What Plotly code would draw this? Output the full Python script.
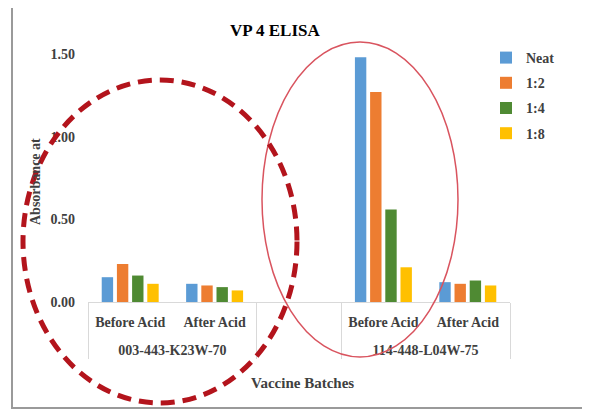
import plotly.graph_objects as go

batches = ["003-443-K23W-70", "003-443-K23W-70", " ", "114-448-L04W-75", "114-448-L04W-75"]
stages = ["Before Acid", "After Acid", "  ", "Before Acid", "After Acid"]
series_names = ["Neat", "1:2", "1:4", "1:8"]
neat = [0.15, 0.11, None, 1.48, 0.12]
dil_2 = [0.23, 0.10, None, 1.27, 0.11]
dil_4 = [0.16, 0.09, None, 0.56, 0.13]
dil_8 = [0.11, 0.07, None, 0.21, 0.10]
colors = ["#5b9bd5", "#ed7d31", "#4f8a33", "#ffc000"]
y_ticks = [0.0, 0.5, 1.0, 1.5]
y_tick_text = ["0.00", "0.50", "1.00", "1.50"]

FONT = "Liberation Serif, Times New Roman, serif"
TXT = "#404040"

# outer labels drawn one line lower to leave room between the two label rows
batch_labels = ["<br>" + b if b.strip() else b for b in batches]

fig = go.Figure()
for i, (name, vals) in enumerate(zip(series_names, [neat, dil_2, dil_4, dil_8])):
    fig.add_trace(go.Bar(
        x=[batch_labels, stages], y=vals, name=name,
        marker=dict(color=colors[i], line=dict(width=0)),
        legendgroup=name,
    ))

# screen-space plot area (page has 8px body margin)
OFF = 8
W, H = 590, 411
SL, SR, ST, SB = 88, 510, 54, 302
L, T = SL - OFF, ST - OFF
R, B = W - (SR - OFF), H - (SB - OFF)
pw, ph = SR - SL, SB - ST

def px(x):
    return (x - SL) / pw

def py(y):
    return (SB - y) / ph

fig.update_layout(
    width=W, height=H,
    margin=dict(l=L, r=R, t=T, b=B),
    paper_bgcolor="white", plot_bgcolor="white",
    barmode="group", bargap=0.28, bargroupgap=0.25,
    font=dict(family=FONT, color=TXT, size=14),
    showlegend=True,
    legend=dict(
        x=px(486), y=py(42), xanchor="left", yanchor="top",
        font=dict(family=FONT, size=14, color=TXT, weight="bold"),
        tracegroupgap=4, itemwidth=30, bgcolor="rgba(0,0,0,0)",
    ),
    xaxis=dict(
        type="multicategory", showgrid=False, showline=True, linecolor="#d9d9d9",
        linewidth=1, ticks="", showdividers=True, dividercolor="#d9d9d9", dividerwidth=1,
        ticklabelstandoff=7,
        tickfont=dict(family=FONT, size=14, color=TXT, weight="bold"),
    ),
    yaxis=dict(
        range=[0, 1.5], tickvals=y_ticks, ticktext=y_tick_text, showgrid=False,
        showline=False, zeroline=False, ticks="", ticklabelstandoff=12,
        tickfont=dict(family=FONT, size=14, color=TXT, weight="bold"),
    ),
    annotations=[
        dict(text="<b>VP 4 ELISA</b>", xref="paper", yref="paper", x=px(275), y=py(31),
             xanchor="center", yanchor="middle",
             showarrow=False, font=dict(family=FONT, size=17, color="#000000")),
        dict(text="<b>Vaccine Batches</b>", xref="paper", yref="paper", x=px(302), y=py(383),
             xanchor="center", yanchor="middle",
             showarrow=False, font=dict(family=FONT, size=15, color=TXT)),
        dict(text="<b>Absorbance at</b>", xref="paper", yref="paper", x=px(35), y=py(182),
             xanchor="center", yanchor="middle",
             showarrow=False, textangle=-90, font=dict(family=FONT, size=14, color=TXT)),
    ],
    shapes=[
        dict(type="rect", xref="paper", yref="paper", x0=px(12), x1=px(588), y0=py(408), y1=py(5),
             line=dict(color="#9a9a9a", width=2), layer="above"),
        dict(type="circle", xref="paper", yref="paper", x0=px(262), x1=px(458), y0=py(357), y1=py(42),
             line=dict(color="#d9545f", width=1.5), layer="above"),
        dict(type="circle", xref="paper", yref="paper", x0=px(23), x1=px(297), y0=py(403), y1=py(80),
             line=dict(color="#b3141c", width=5, dash="14px,8px"), layer="above"),
    ],
)

fig.write_html("out.html")
